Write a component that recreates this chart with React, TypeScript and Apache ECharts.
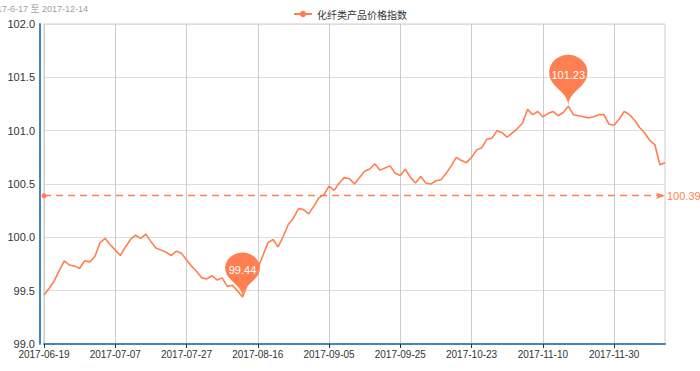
import React, { useEffect, useRef } from "react";
import * as echarts from "echarts";

const titleText = "2017-6-17 至 2017-12-14";
const seriesName = "化纤类产品价格指数";

const dates = [
  "2017-06-19","2017-06-20","2017-06-21","2017-06-22","2017-06-23","2017-06-26","2017-06-27","2017-06-28","2017-06-29","2017-06-30",
  "2017-07-03","2017-07-04","2017-07-05","2017-07-06","2017-07-07","2017-07-10","2017-07-11","2017-07-12","2017-07-13","2017-07-14",
  "2017-07-17","2017-07-18","2017-07-19","2017-07-20","2017-07-21","2017-07-24","2017-07-25","2017-07-26","2017-07-27","2017-07-28",
  "2017-07-31","2017-08-01","2017-08-02","2017-08-03","2017-08-04","2017-08-07","2017-08-08","2017-08-09","2017-08-10","2017-08-11",
  "2017-08-14","2017-08-15","2017-08-16","2017-08-17","2017-08-18","2017-08-21","2017-08-22","2017-08-23","2017-08-24","2017-08-25",
  "2017-08-28","2017-08-29","2017-08-30","2017-08-31","2017-09-01","2017-09-04","2017-09-05","2017-09-06","2017-09-07","2017-09-08",
  "2017-09-11","2017-09-12","2017-09-13","2017-09-14","2017-09-15","2017-09-18","2017-09-19","2017-09-20","2017-09-21","2017-09-22",
  "2017-09-25","2017-09-26","2017-09-27","2017-09-28","2017-09-29","2017-10-10","2017-10-11","2017-10-12","2017-10-13","2017-10-16",
  "2017-10-17","2017-10-18","2017-10-19","2017-10-20","2017-10-23","2017-10-24","2017-10-25","2017-10-26","2017-10-27","2017-10-30",
  "2017-10-31","2017-11-01","2017-11-02","2017-11-03","2017-11-06","2017-11-07","2017-11-08","2017-11-09","2017-11-10","2017-11-13",
  "2017-11-14","2017-11-15","2017-11-16","2017-11-17","2017-11-20","2017-11-21","2017-11-22","2017-11-23","2017-11-24","2017-11-27",
  "2017-11-28","2017-11-29","2017-11-30","2017-12-01","2017-12-04","2017-12-05","2017-12-06","2017-12-07","2017-12-08","2017-12-11",
  "2017-12-12","2017-12-13","2017-12-14",
];

const values = [
  99.46, 99.52, 99.59, 99.69, 99.78, 99.74, 99.73, 99.71, 99.78, 99.77,
  99.82, 99.95, 99.99, 99.93, 99.88, 99.83, 99.91, 99.98, 100.02, 99.99,
  100.03, 99.96, 99.90, 99.88, 99.86, 99.83, 99.87, 99.85, 99.79, 99.73,
  99.68, 99.62, 99.61, 99.64, 99.60, 99.62, 99.54, 99.55, 99.50, 99.44,
  99.56, 99.64, 99.71, 99.83, 99.95, 99.98, 99.91, 100.01, 100.12, 100.18,
  100.27, 100.26, 100.22, 100.29, 100.37, 100.40, 100.48, 100.44, 100.51, 100.56,
  100.55, 100.50, 100.56, 100.62, 100.64, 100.69, 100.63, 100.65, 100.67, 100.60,
  100.58, 100.64, 100.56, 100.51, 100.57, 100.51, 100.50, 100.53, 100.54, 100.60,
  100.67, 100.75, 100.72, 100.70, 100.75, 100.82, 100.84, 100.92, 100.93, 101.00,
  100.98, 100.94, 100.98, 101.02, 101.07, 101.20, 101.15, 101.18, 101.13, 101.16,
  101.18, 101.14, 101.17, 101.23, 101.15, 101.14, 101.13, 101.12, 101.13, 101.15,
  101.15, 101.06, 101.05, 101.11, 101.18, 101.15, 101.10, 101.03, 100.98, 100.91,
  100.87, 100.68, 100.70,
];

const yMin = 99;
const yMax = 102;
const yStep = 0.5;

const COLOR = "#ff7f50";
const AXIS_BLUE = "#4488bb";
const FONT = "'Liberation Sans', Arial, sans-serif";

export default function App() {
  const ref = useRef<HTMLDivElement>(null);
  useEffect(() => {
    if (!ref.current) return;
    const chart = echarts.init(ref.current, null, { renderer: "svg" });
    chart.setOption({
      animation: false,
      textStyle: { fontFamily: FONT },
      graphic: [
        {
          type: "text",
          x: 88,
          y: 9,
          style: {
            text: titleText,
            align: "right",
            verticalAlign: "middle",
            fill: "#a0a0a0",
            font: "9px 'Liberation Sans', 'Noto Sans CJK SC', sans-serif",
          },
        },
      ],
      legend: {
        top: 4,
        left: "center",
        itemWidth: 18,
        itemHeight: 8,
        itemGap: 4,
        textStyle: { fontSize: 10, color: "#333", fontFamily: "'Noto Sans CJK SC', sans-serif" },
        data: [seriesName],
      },
      grid: {
        left: 44,
        right: 35,
        top: 24,
        bottom: 27,
        show: true,
        borderColor: "#ccc",
        borderWidth: 1,
      },
      xAxis: {
        type: "category",
        data: dates,
        boundaryGap: false,
        axisLine: { lineStyle: { color: AXIS_BLUE, width: 2 } },
        axisTick: { show: true, interval: 13, length: 4, lineStyle: { color: "#333" } },
        axisLabel: { interval: 13, color: "#333", fontSize: 10, margin: 5, fontFamily: FONT },
        splitLine: { show: true, interval: 13, lineStyle: { color: "#ccc", width: 1 } },
      },
      yAxis: {
        type: "value",
        min: yMin,
        max: yMax,
        interval: yStep,
        offset: 4,
        axisLine: { show: true, lineStyle: { color: AXIS_BLUE, width: 2 } },
        axisTick: { show: false },
        axisLabel: {
          color: "#333",
          fontSize: 11,
          margin: 5,
          fontFamily: FONT,
          formatter: (v: number) => v.toFixed(1),
        },
        splitLine: { show: true, lineStyle: { color: "#ddd", width: 1 } },
      },
      series: [
        {
          name: seriesName,
          type: "line",
          data: values,
          symbol: "circle",
          symbolSize: 6,
          showSymbol: false,
          itemStyle: { color: COLOR },
          lineStyle: { color: COLOR, width: 1.6 },
          markPoint: {
            symbol: "pin",
            itemStyle: { color: COLOR },
            label: { show: true, color: "#fff", fontSize: 11, fontFamily: FONT },
            data: [
              { type: "max", name: "最大值", symbolSize: [64, 59] },
              { type: "min", name: "最小值", symbolSize: [58, 51] },
            ],
          },
          markLine: {
            silent: true,
            symbol: ["circle", "arrow"],
            symbolSize: [5, 9],
            precision: 2,
            lineStyle: { color: COLOR, type: [7, 5], width: 1.3 },
            label: { show: true, position: "end", color: COLOR, fontSize: 11, fontFamily: FONT, distance: 2 },
            data: [{ type: "average", name: "平均值" }],
          },
        },
      ],
    });
    return () => chart.dispose();
  }, []);
  return <div ref={ref} style={{ width: 700, height: 371, position: "absolute", left: 0, top: 0 }} />;
}
